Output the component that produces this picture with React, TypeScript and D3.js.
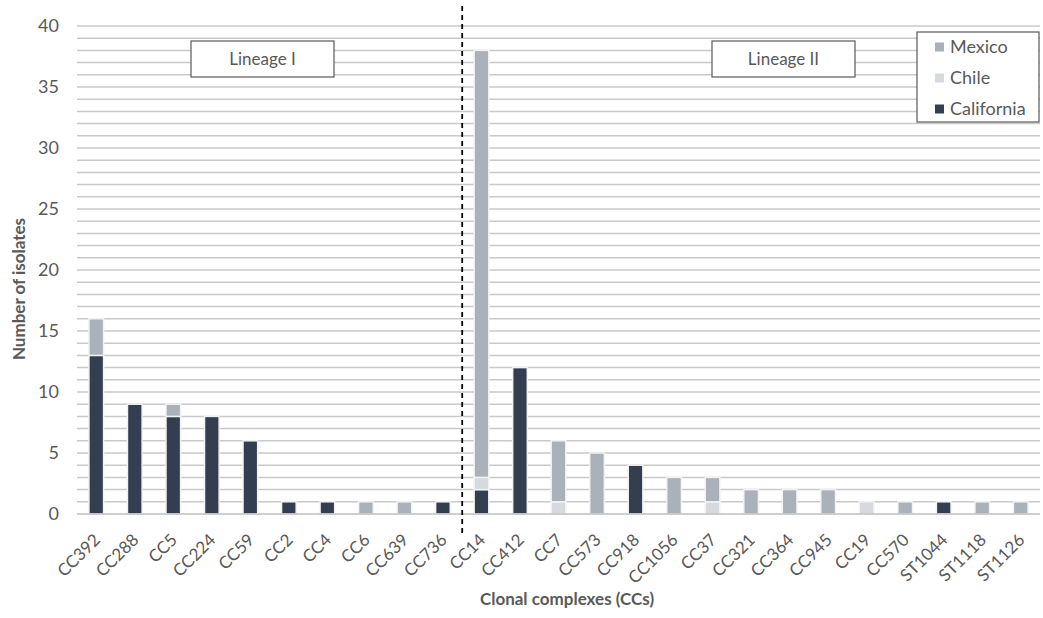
import React from "react";
import * as d3 from "d3";

const categories = ["CC392","CC288","CC5","CC224","CC59","CC2","CC4","CC6","CC639","CC736","CC14","CC412","CC7","CC573","CC918","CC1056","CC37","CC321","CC364","CC945","CC19","CC570","ST1044","ST1118","ST1126"];
const california = [13,9,8,8,6,1,1,0,0,1,2,12,0,0,4,0,0,0,0,0,0,0,1,0,0];
const chile =      [0,0,0,0,0,0,0,0,0,0,1,0,1,0,0,0,1,0,0,0,1,0,0,0,0];
const mexico =     [3,0,1,0,0,0,0,1,1,0,35,0,5,5,0,3,2,2,2,2,0,1,0,1,1];
const seriesNames = ["California","Chile","Mexico"];
const seriesColors = ["#333f50","#d6dadf","#abb1b9"];
const legendOrder = ["Mexico","Chile","California"];
const yTicks = [0,5,10,15,20,25,30,35,40];
const lineageLabels = ["Lineage I","Lineage II"];

const W = 1043, H = 618;
const M = { left: 77, right: 1040, top: 26, bottom: 514 };
const FONT = "Lato, 'Open Sans', sans-serif";
const TXT = "#595959";

export default function App() {
  const x = d3.scaleBand<string>().domain(categories).range([M.left, M.right]).paddingInner(0.62).paddingOuter(0.31);
  const y = d3.scaleLinear().domain([0, 40]).range([M.bottom, M.top]);
  const rows = categories.map((c, i) => ({ cat: c, California: california[i], Chile: chile[i], Mexico: mexico[i] }));
  const stack = d3.stack<any>().keys(seriesNames)(rows);
  const grid = d3.range(1, 41);
  const divX = (x("CC736")! + x("CC14")! + x.bandwidth()) / 2;

  return (
    <div style={{ position: "absolute", left: 0, top: 0 }}>
      <svg width={W} height={H} style={{ display: "block", fontFamily: FONT }}>
        <rect width={W} height={H} fill="#fff" />
        {grid.map((g) => (
          <line key={g} x1={M.left} x2={M.right} y1={y(g)} y2={y(g)} stroke="#c9c9c9" strokeWidth={1.5} />
        ))}
        {stack.map((s, si) =>
          s.map((d, i) =>
            d[1] - d[0] > 0 ? (
              <rect key={si + "-" + i} x={x(categories[i])!} width={x.bandwidth()} y={y(d[1])} height={y(d[0]) - y(d[1])}
                fill={seriesColors[si]} stroke="#f2f2f2" strokeWidth={1.5} />
            ) : null
          )
        )}
        <line x1={M.left} x2={M.right} y1={M.bottom} y2={M.bottom} stroke="#bfbfbf" strokeWidth={1.5} />
        {yTicks.map((t) => (
          <text key={t} x={59} y={y(t)} dy="0.35em" textAnchor="end" fontSize={18} fill={TXT}>{t}</text>
        ))}
        {categories.map((c) => {
          const cx = x(c)! + x.bandwidth() / 2 + 5;
          const cy = M.bottom + 27;
          return (
            <text key={c} x={cx} y={cy} textAnchor="end" fontSize={17} fill={TXT} transform={`rotate(-45 ${cx} ${cy})`}>{c}</text>
          );
        })}
        <line x1={divX} x2={divX} y1={6} y2={534} stroke="#000" strokeWidth={1.8} strokeDasharray="5 4" />
        {[[191, lineageLabels[0]], [712, lineageLabels[1]]].map(([lx, lab]) => (
          <g key={lab as string}>
            <rect x={lx as number} y={41} width={143} height={36} fill="#fff" stroke="#595959" strokeWidth={1.2} />
            <text x={(lx as number) + 71.5} y={59} dy="0.35em" textAnchor="middle" fontSize={17} fill={TXT}>{lab}</text>
          </g>
        ))}
        <rect x={917} y={32} width={122} height={90} fill="#fff" stroke="#595959" strokeWidth={1.2} />
        {legendOrder.map((n, i) => {
          const ly = 47 + i * 31;
          return (
            <g key={n}>
              <rect x={935} y={ly - 4.5} width={9} height={9} fill={seriesColors[seriesNames.indexOf(n)]} />
              <text x={950} y={ly} dy="0.35em" fontSize={18} fill={TXT}>{n}</text>
            </g>
          );
        })}
        <text transform={`translate(25 289) rotate(-90)`} textAnchor="middle" fontSize={17} fontWeight="bold" fill={TXT}>Number of isolates</text>
        <text x={567} y={605} textAnchor="middle" fontSize={17} fontWeight="bold" fill={TXT}>Clonal complexes (CCs)</text>
      </svg>
    </div>
  );
}
